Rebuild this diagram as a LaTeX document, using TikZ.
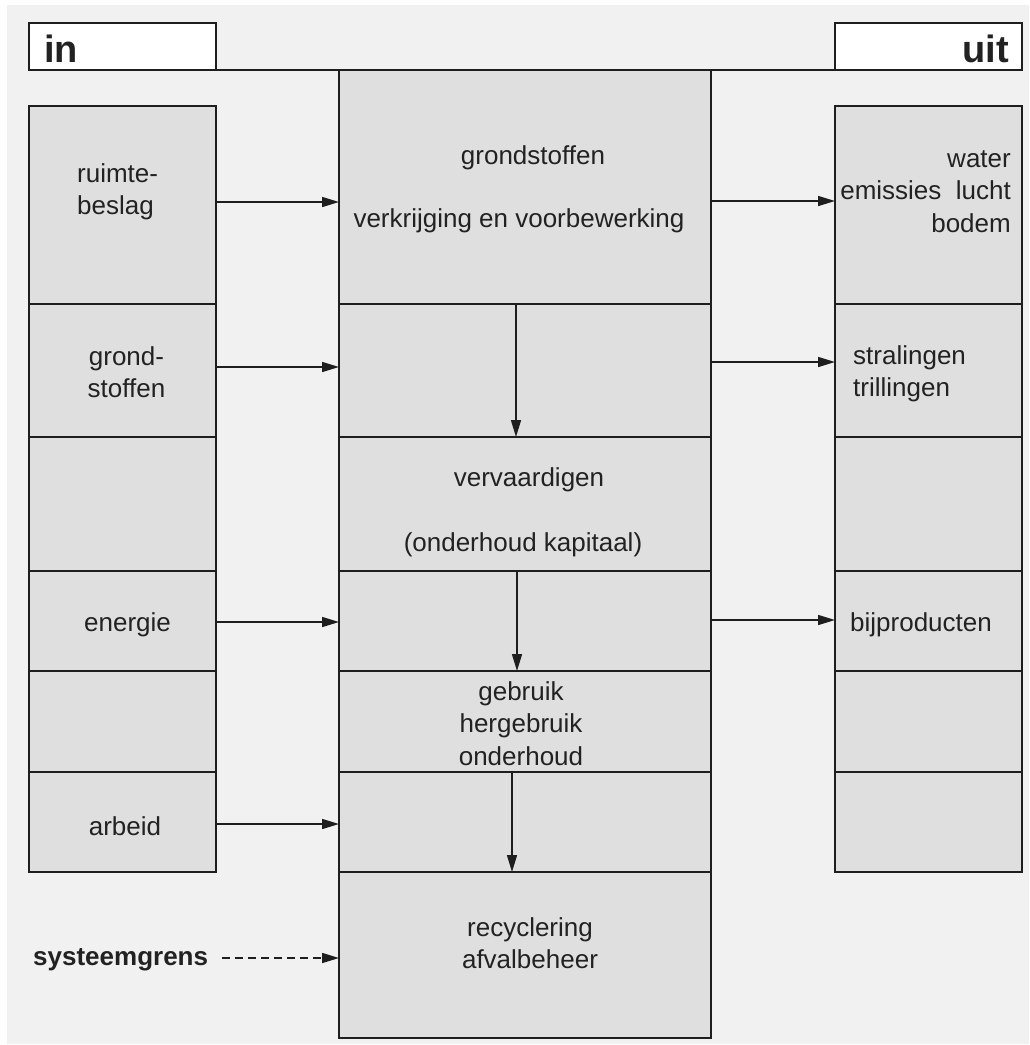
\documentclass[tikz,border=0pt]{standalone}
\usepackage{fontspec}
\setmainfont{Liberation Sans}
\usetikzlibrary{arrows.meta,calc}
\definecolor{linecol}{HTML}{1E1E1E}
\definecolor{cellgray}{HTML}{DFDFDF}
\definecolor{bggray}{HTML}{F1F1F1}
\definecolor{textcol}{HTML}{222222}
% cell box given by its corners: style, name, x1, y1, x2, y2
\newcommand\cellbox[6]{%
  \node[#1, minimum width={(#5-#3)*1pt}, minimum height={(#6-#4)*1pt}]
    (#2) at ({(#3+#5)/2},{(#4+#6)/2}) {};}
\begin{document}
\begin{tikzpicture}[x=1pt,y=-1pt,
  cell/.style={draw=linecol, fill=cellgray, line width=1.8pt, inner sep=0pt, outer sep=0pt},
  tag/.style={draw=linecol, fill=white, line width=1.8pt, inner sep=0pt, outer sep=0pt},
  flow/.style={draw=linecol, line width=1.5pt, -{Triangle[length=17pt,width=10pt]}},
  txt/.style={inner sep=0pt, text=textcol, font=\fontsize{26}{32.5}\selectfont},
  bigtxt/.style={inner sep=0pt, text=textcol, font=\fontsize{38}{44}\selectfont\bfseries},
]
\useasboundingbox (0,0) rectangle (1029,1045);
\fill[white] (0,0) rectangle (1029,1045);
\fill[bggray] (7,5) rectangle (1029,1044);

% header tags and the top boundary line
\cellbox{tag}{inbox}{29}{23}{216}{70}
\cellbox{tag}{uitbox}{835}{23}{1022}{70}
\draw[draw=linecol, line width=1.8pt] (inbox.south east) -- (uitbox.south west);
\node[bigtxt, anchor=base west] (intxt) at (44,62) {in};
\node[bigtxt, anchor=base east] (uittxt) at (1009,62) {uit};

% input column
\cellbox{cell}{L1}{29}{106}{216}{304}
\cellbox{cell}{L2}{29}{304}{216}{437}
\cellbox{cell}{L3}{29}{437}{216}{571}
\cellbox{cell}{L4}{29}{571}{216}{671}
\cellbox{cell}{L5}{29}{671}{216}{772}
\cellbox{cell}{L6}{29}{772}{216}{872}

% life cycle column
\cellbox{cell}{C1}{339}{70}{711}{304}
\cellbox{cell}{C2}{339}{304}{711}{437}
\cellbox{cell}{C3}{339}{437}{711}{571}
\cellbox{cell}{C4}{339}{571}{711}{671}
\cellbox{cell}{C5}{339}{671}{711}{772}
\cellbox{cell}{C6}{339}{772}{711}{872}
\cellbox{cell}{C7}{339}{872}{711}{1038}

% output column
\cellbox{cell}{R1}{835}{106}{1022}{304}
\cellbox{cell}{R2}{835}{304}{1022}{437}
\cellbox{cell}{R3}{835}{437}{1022}{571}
\cellbox{cell}{R4}{835}{571}{1022}{671}
\cellbox{cell}{R5}{835}{671}{1022}{772}
\cellbox{cell}{R6}{835}{772}{1022}{872}

% input labels
\node[txt, align=left, anchor=north west] (ruimte) at (77,163.4) {ruimte-\\beslag};
\node[txt, align=center, anchor=north] (grond) at (126.5,346.4) {grond-\\stoffen};
\node[txt, anchor=base] (energie) at (127.5,631) {energie};
\node[txt, anchor=base] (arbeid) at (125,835) {arbeid};
\node[txt, font=\fontsize{26}{32.5}\selectfont\bfseries, anchor=base west] (sg) at (33,965) {systeemgrens};

% life cycle labels
\node[txt, anchor=base] (gs1) at (533,164) {grondstoffen};
\node[txt, anchor=base] (gs2) at (519,227) {verkrijging en voorbewerking};
\node[txt, anchor=base] (vv1) at (529,486) {vervaardigen};
\node[txt, anchor=base] (vv2) at (523,551) {(onderhoud kapitaal)};
\node[txt, align=center, anchor=north] (gebruik) at (521,681.4) {gebruik\\hergebruik\\onderhoud};
\node[txt, align=center, anchor=north] (recyc) at (530,917.4) {recyclering\\afvalbeheer};

% output labels
\node[txt, align=right, anchor=north east] (emis) at (1011,150) {water\\emissies\ \ lucht\\bodem};
\node[txt, align=left, anchor=north west] (stral) at (853,345.4) {stralingen\\trillingen};
\node[txt, anchor=base west] (bijp) at (850,631) {bijproducten};

% inputs into the life cycle
\draw[flow] ($(L1.east)+(0,-3)$) -- ($(C1.west |- L1.east)+(0,-3)$);
\draw[flow] ($(L2.east)+(0,-3.5)$) -- ($(C2.west |- L2.east)+(0,-3.5)$);
\draw[flow] ($(L4.east)+(0,1)$) -- ($(C4.west |- L4.east)+(0,1)$);
\draw[flow] ($(L6.east)+(0,2)$) -- ($(C6.west |- L6.east)+(0,2)$);

% outputs from the life cycle
\draw[flow] ($(C1.east |- R1.west)+(0,-4)$) -- ($(R1.west)+(0,-4)$);
\draw[flow] ($(C2.east |- R2.west)+(0,-8.5)$) -- ($(R2.west)+(0,-8.5)$);
\draw[flow] ($(C4.east |- R4.west)+(0,-1)$) -- ($(R4.west)+(0,-1)$);

% stages of the life cycle
\draw[flow] ($(C1.south)+(-9,0)$) -- ($(C3.north)+(-9,0)$);
\draw[flow] ($(C3.south)+(-8,0)$) -- ($(C5.north)+(-8,0)$);
\draw[flow] ($(C5.south)+(-13,0)$) -- ($(C7.north)+(-13,0)$);

% system boundary pointer
\draw[flow, dash pattern=on 8pt off 5pt] ($(sg.east |- C7.west)+(14,3)$) -- ($(C7.west)+(0,3)$);
\end{tikzpicture}
\end{document}
